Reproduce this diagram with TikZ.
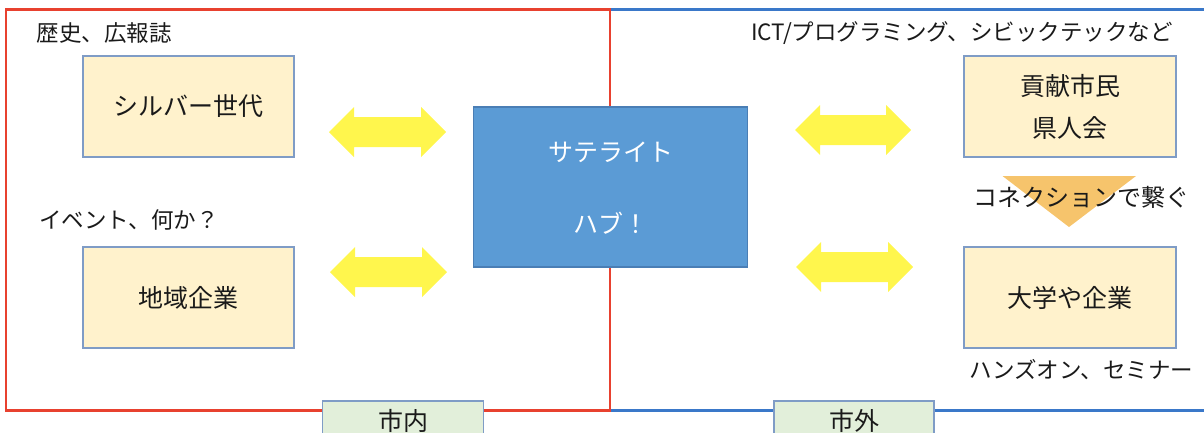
\documentclass[tikz,border=0pt]{standalone}
\usepackage{fontspec}
\setmainfont{Noto Sans CJK JP}
\definecolor{redline}{HTML}{E8412F}
\definecolor{blueline}{HTML}{3A78C9}
\definecolor{boxfill}{HTML}{FFF2CC}
\definecolor{boxdraw}{HTML}{7F9CC6}
\definecolor{hubfill}{HTML}{5B9BD5}
\definecolor{hubdraw}{HTML}{4A7EB5}
\definecolor{tabfill}{HTML}{E2EFDA}
\definecolor{arrowfill}{HTML}{FFF64D}
\definecolor{trifill}{HTML}{F6C46C}
\definecolor{txt}{HTML}{1A1A1A}
\newcommand\yarrow[3]{%
  \fill[arrowfill] (#1,#3) -- (#1+25,#3-25) -- (#1+25,#3-15) -- (#2-25,#3-15) -- (#2-25,#3-25) -- (#2,#3) -- (#2-25,#3+25) -- (#2-25,#3+15) -- (#1+25,#3+15) -- (#1+25,#3+25) -- cycle;}
\tikzset{
  ybox/.style={draw=boxdraw, line width=1.2pt, fill=boxfill, minimum width=211pt, minimum height=101pt, inner sep=0pt, text=txt, font=\fontsize{25}{42}\selectfont, align=center},
  hubbox/.style={draw=hubdraw, line width=1.2pt, fill=hubfill, minimum width=274pt, minimum height=160pt, inner sep=0pt},
  hubtxt/.style={text=white, font=\fontsize{25}{30}\selectfont, inner sep=0pt},
  tab/.style={draw=boxdraw, line width=1.2pt, fill=tabfill, minimum width=161pt, minimum height=40pt, inner sep=0pt},
  tabtxt/.style={text=txt, font=\fontsize{25}{30}\selectfont, inner sep=0pt},
  lbl/.style={text=txt, font=\fontsize{22.5}{27}\selectfont, inner sep=0pt},
}
\begin{document}
\begin{tikzpicture}[x=1pt,y=-1pt]
\useasboundingbox (0,0) rectangle (1204,432);
% region frames
\draw[blueline, line width=2.6pt] (610,9.5) -- (1212,9.5);
\draw[blueline, line width=2.6pt] (610,410.5) -- (1212,410.5);
\draw[redline, line width=2.6pt] (6,9.5) rectangle (610,410.5);
% boxes
\node[ybox] (silver) at (188.5,106.5) {シルバー世代};
\node[ybox] (local) at (188.5,297.5) {地域企業};
\node[hubbox] (hub) at (610.5,187) {};
\node[hubtxt] (hub1) at (610.5,152) {サテライト};
\node[hubtxt] (hub2) at (610.5,223) {ハブ！};
\node[ybox, minimum width=212pt] (citizen) at (1070,106.5) {貢献市民\\県人会};
\node[ybox, minimum width=212pt] (univ) at (1070,297.5) {大学や企業};
% arrows
\yarrow{329}{446}{132}
\yarrow{330}{447}{272}
\yarrow{795}{911}{130}
\yarrow{796}{913}{267}
% connection triangle
\fill[trifill] (1002.5,176) -- (1136,176) -- (1069,227) -- cycle;
% labels
\node[lbl] (l1) at (104,33) {歴史、広報誌};
\node[lbl] (l2) at (129,220) {イベント、何か？};
\node[lbl] (l3) at (962,33) {ICT/プログラミング、シビックテックなど};
\node[lbl, font=\fontsize{24}{28}\selectfont] (l4) at (1081.5,197) {コネクションで繋ぐ};
\node[lbl] (l5) at (1081.5,370) {ハンズオン、セミナー};
% tabs
\node[tab] (inner) at (403,421) {};
\node[tabtxt] at (403,421) {市内};
\node[tab, minimum width=160pt] (outer) at (854,421) {};
\node[tabtxt] at (854,421) {市外};
\end{tikzpicture}
\end{document}
